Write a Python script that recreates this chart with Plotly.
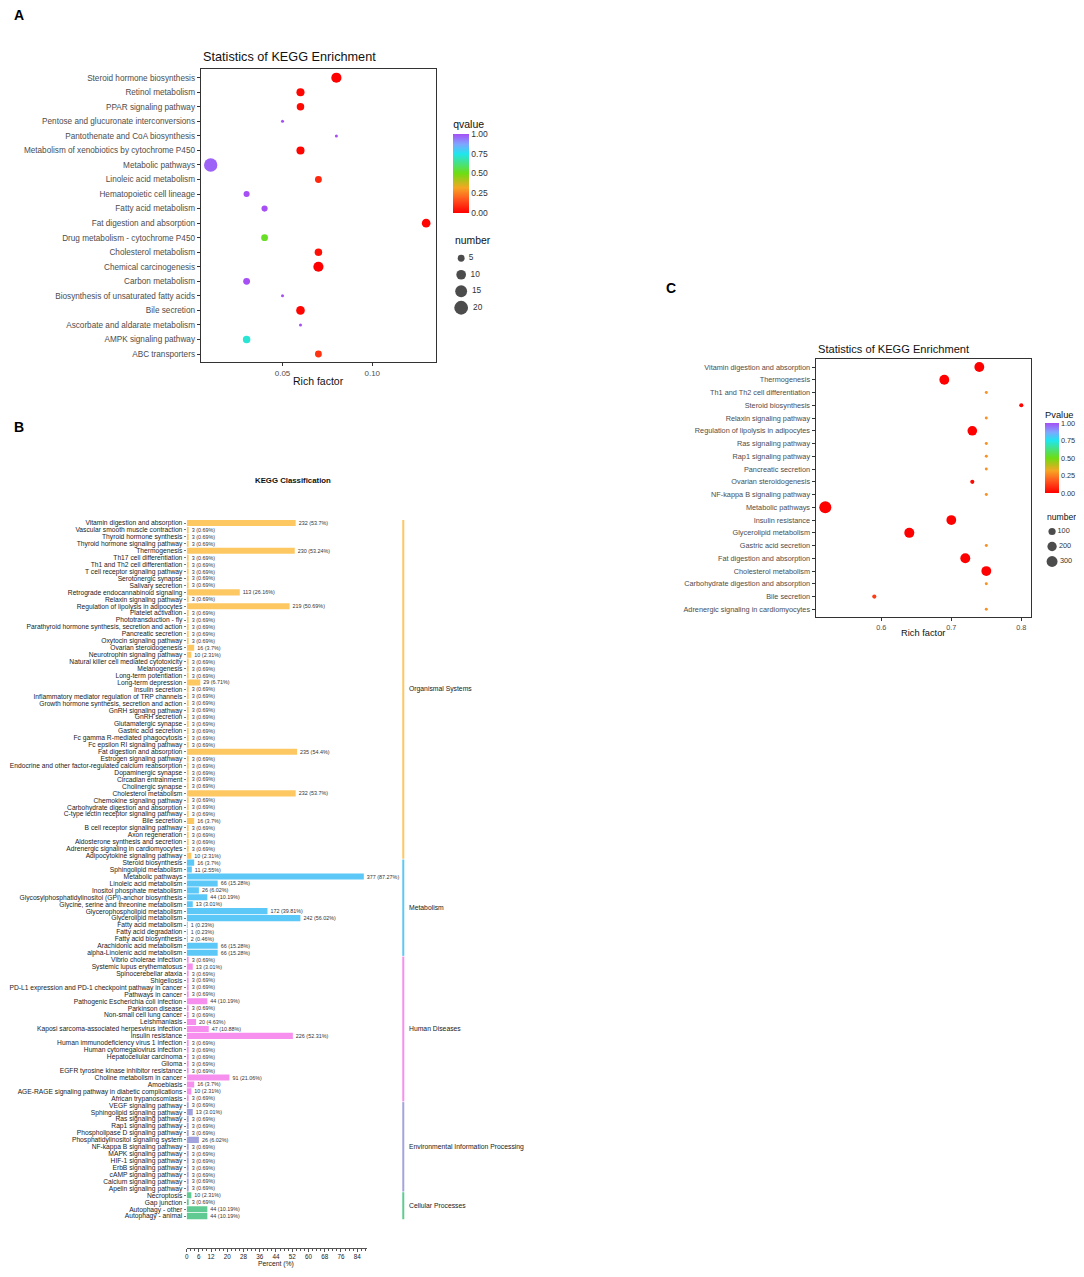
import math
import plotly.graph_objects as go

# reference canvas is 1084x1277; the page body has an 8px margin
OFF = 8
W, H = 1084 - OFF, 1277 - 2 * OFF
FONT = "Liberation Sans, Arial, sans-serif"


def px(x):
    return (x - OFF) / W


def py(y):
    return 1 - (y - OFF) / H


# ---------------- Panel A data ----------------
a_terms = ["Steroid hormone biosynthesis", "Retinol metabolism", "PPAR signaling pathway",
           "Pentose and glucuronate interconversions", "Pantothenate and CoA biosynthesis",
           "Metabolism of xenobiotics by cytochrome P450", "Metabolic pathways",
           "Linoleic acid metabolism", "Hematopoietic cell lineage", "Fatty acid metabolism",
           "Fat digestion and absorption", "Drug metabolism - cytochrome P450",
           "Cholesterol metabolism", "Chemical carcinogenesis", "Carbon metabolism",
           "Biosynthesis of unsaturated fatty acids", "Bile secretion",
           "Ascorbate and aldarate metabolism", "AMPK signaling pathway", "ABC transporters"]
a_rich = [0.08, 0.06, 0.06, 0.05, 0.08, 0.06, 0.01, 0.07, 0.03, 0.04,
          0.13, 0.04, 0.07, 0.07, 0.03, 0.05, 0.06, 0.06, 0.03, 0.07]
a_qvalue = [0.0, 0.01, 0.02, 1.0, 1.0, 0.01, 0.97, 0.08, 1.0, 1.0,
            0.01, 0.52, 0.03, 0.0, 1.0, 1.0, 0.01, 1.0, 0.72, 0.1]
a_number = [11, 7, 6, 1, 1, 7, 19, 5, 4, 4, 8, 5, 6, 11, 5, 1, 8, 1, 6, 5]
a_size_legend = [5, 10, 15, 20]
a_xticks = [0.05, 0.10]

# ---------------- Panel C data ----------------
c_terms = ["Vitamin digestion and absorption", "Thermogenesis", "Th1 and Th2 cell differentiation",
           "Steroid biosynthesis", "Relaxin signaling pathway", "Regulation of lipolysis in adipocytes",
           "Ras signaling pathway", "Rap1 signaling pathway", "Pancreatic secretion",
           "Ovarian steroidogenesis", "NF-kappa B signaling pathway", "Metabolic pathways",
           "Insulin resistance", "Glycerolipid metabolism", "Gastric acid secretion",
           "Fat digestion and absorption", "Cholesterol metabolism",
           "Carbohydrate digestion and absorption", "Bile secretion",
           "Adrenergic signaling in cardiomyocytes"]
c_rich = [0.74, 0.69, 0.75, 0.80, 0.75, 0.73, 0.75, 0.75, 0.75, 0.73,
          0.75, 0.52, 0.70, 0.64, 0.75, 0.72, 0.75, 0.75, 0.59, 0.75]
c_pvalue = [0.0, 0.0, 0.28, 0.01, 0.28, 0.0, 0.28, 0.28, 0.28, 0.02,
            0.28, 0.0, 0.0, 0.0, 0.28, 0.0, 0.0, 0.28, 0.12, 0.28]
c_number = [232, 230, 3, 16, 3, 219, 3, 3, 3, 16, 3, 377, 226, 242, 3, 235, 232, 3, 16, 3]
c_size_legend = [100, 200, 300]
c_xticks = [0.6, 0.7, 0.8]

# ---------------- Panel B data ----------------
org_names = ["Vitamin digestion and absorption", "Vascular smooth muscle contraction",
             "Thyroid hormone synthesis", "Thyroid hormone signaling pathway", "Thermogenesis",
             "Th17 cell differentiation", "Th1 and Th2 cell differentiation",
             "T cell receptor signaling pathway", "Serotonergic synapse", "Salivary secretion",
             "Retrograde endocannabinoid signaling", "Relaxin signaling pathway",
             "Regulation of lipolysis in adipocytes", "Platelet activation", "Phototransduction - fly",
             "Parathyroid hormone synthesis, secretion and action", "Pancreatic secretion",
             "Oxytocin signaling pathway", "Ovarian steroidogenesis", "Neurotrophin signaling pathway",
             "Natural killer cell mediated cytotoxicity", "Melanogenesis", "Long-term potentiation",
             "Long-term depression", "Insulin secretion",
             "Inflammatory mediator regulation of TRP channels",
             "Growth hormone synthesis, secretion and action", "GnRH signaling pathway",
             "GnRH secretion", "Glutamatergic synapse", "Gastric acid secretion",
             "Fc gamma R-mediated phagocytosis", "Fc epsilon RI signaling pathway",
             "Fat digestion and absorption", "Estrogen signaling pathway",
             "Endocrine and other factor-regulated calcium reabsorption", "Dopaminergic synapse",
             "Circadian entrainment", "Cholinergic synapse", "Cholesterol metabolism",
             "Chemokine signaling pathway", "Carbohydrate digestion and absorption",
             "C-type lectin receptor signaling pathway", "Bile secretion",
             "B cell receptor signaling pathway", "Axon regeneration",
             "Aldosterone synthesis and secretion", "Adrenergic signaling in cardiomyocytes",
             "Adipocytokine signaling pathway"]
org_counts = [232, 3, 3, 3, 230, 3, 3, 3, 3, 3, 113, 3, 219, 3, 3, 3, 3, 3, 16, 10,
              3, 3, 3, 29, 3, 3, 3, 3, 3, 3, 3, 3, 3, 235, 3, 3, 3, 3, 3, 232,
              3, 3, 3, 16, 3, 3, 3, 3, 10]
org_pcts = ["53.7", "0.69", "0.69", "0.69", "53.24", "0.69", "0.69", "0.69", "0.69", "0.69",
            "26.16", "0.69", "50.69", "0.69", "0.69", "0.69", "0.69", "0.69", "3.7", "2.31",
            "0.69", "0.69", "0.69", "6.71", "0.69", "0.69", "0.69", "0.69", "0.69", "0.69",
            "0.69", "0.69", "0.69", "54.4", "0.69", "0.69", "0.69", "0.69", "0.69", "53.7",
            "0.69", "0.69", "0.69", "3.7", "0.69", "0.69", "0.69", "0.69", "2.31"]

met_names = ["Steroid biosynthesis", "Sphingolipid metabolism", "Metabolic pathways",
             "Linoleic acid metabolism", "Inositol phosphate metabolism",
             "Glycosylphosphatidylinositol (GPI)-anchor biosynthesis",
             "Glycine, serine and threonine metabolism", "Glycerophospholipid metabolism",
             "Glycerolipid metabolism", "Fatty acid metabolism", "Fatty acid degradation",
             "Fatty acid biosynthesis", "Arachidonic acid metabolism",
             "alpha-Linolenic acid metabolism"]
met_counts = [16, 11, 377, 66, 26, 44, 13, 172, 242, 1, 1, 2, 66, 66]
met_pcts = ["3.7", "2.55", "87.27", "15.28", "6.02", "10.19", "3.01", "39.81", "56.02",
            "0.23", "0.23", "0.46", "15.28", "15.28"]

hd_names = ["Vibrio cholerae infection", "Systemic lupus erythematosus", "Spinocerebellar ataxia",
            "Shigellosis", "PD-L1 expression and PD-1 checkpoint pathway in cancer",
            "Pathways in cancer", "Pathogenic Escherichia coli infection", "Parkinson disease",
            "Non-small cell lung cancer", "Leishmaniasis",
            "Kaposi sarcoma-associated herpesvirus infection", "Insulin resistance",
            "Human immunodeficiency virus 1 infection", "Human cytomegalovirus infection",
            "Hepatocellular carcinoma", "Glioma", "EGFR tyrosine kinase inhibitor resistance",
            "Choline metabolism in cancer", "Amoebiasis",
            "AGE-RAGE signaling pathway in diabetic complications", "African trypanosomiasis"]
hd_counts = [3, 13, 3, 3, 3, 3, 44, 3, 3, 20, 47, 226, 3, 3, 3, 3, 3, 91, 16, 10, 3]
hd_pcts = ["0.69", "3.01", "0.69", "0.69", "0.69", "0.69", "10.19", "0.69", "0.69", "4.63",
           "10.88", "52.31", "0.69", "0.69", "0.69", "0.69", "0.69", "21.06", "3.7", "2.31", "0.69"]

env_names = ["VEGF signaling pathway", "Sphingolipid signaling pathway", "Ras signaling pathway",
             "Rap1 signaling pathway", "Phospholipase D signaling pathway",
             "Phosphatidylinositol signaling system", "NF-kappa B signaling pathway",
             "MAPK signaling pathway", "HIF-1 signaling pathway", "ErbB signaling pathway",
             "cAMP signaling pathway", "Calcium signaling pathway", "Apelin signaling pathway"]
env_counts = [3, 13, 3, 3, 3, 26, 3, 3, 3, 3, 3, 3, 3]
env_pcts = ["0.69", "3.01", "0.69", "0.69", "0.69", "6.02", "0.69", "0.69", "0.69", "0.69",
            "0.69", "0.69", "0.69"]

cel_names = ["Necroptosis", "Gap junction", "Autophagy - other", "Autophagy - animal"]
cel_counts = [10, 3, 44, 44]
cel_pcts = ["2.31", "0.69", "10.19", "10.19"]

b_groups = ["Organismal Systems", "Metabolism", "Human Diseases",
            "Environmental Information Processing", "Cellular Processes"]
b_colors = ["#FDC862", "#5CC8F7", "#F78FEF", "#A3A3DE", "#5FCB92"]
b_group_data = [(org_names, org_counts, org_pcts), (met_names, met_counts, met_pcts),
                (hd_names, hd_counts, hd_pcts), (env_names, env_counts, env_pcts),
                (cel_names, cel_counts, cel_pcts)]
b_xticks = [0, 6, 12, 20, 28, 36, 44, 52, 60, 68, 76, 84]

colorscale = [[0.0, "#FF0000"], [0.18, "#FF5A1F"], [0.32, "#F5A623"], [0.5, "#6EDD12"],
              [0.75, "#1FE6EE"], [0.87, "#7FA6FF"], [1.0, "#A64FF5"]]


def size_a(n):
    return 3 + (math.sqrt(n) - 1) * 3.1


def size_c(n):
    return 2.1 + 0.51 * math.sqrt(n)


fig = go.Figure()

# ---------- Panel A ----------
fig.add_trace(go.Scatter(
    x=a_rich, y=a_terms, mode="markers", xaxis="x", yaxis="y", showlegend=False,
    marker=dict(size=[size_a(n) for n in a_number], color=a_qvalue, colorscale=colorscale,
                cmin=0, cmax=1, line=dict(width=0), opacity=1,
                colorbar=dict(x=px(452), xanchor="left", y=py(165), yanchor="middle",
                              len=96, lenmode="pixels", thickness=16, xpad=0, ypad=0,
                              outlinewidth=0, ticks="",
                              tickvals=[0, 0.25, 0.5, 0.75, 1.0],
                              ticktext=["0.00", "0.25", "0.50", "0.75", "1.00"],
                              tickfont=dict(size=8.5, color="#333", family=FONT),
                              title=dict(text="qvalue", side="top",
                                         font=dict(size=10.5, color="#111", family=FONT))))))

# size legend A
fig.add_trace(go.Scatter(
    x=[0] * len(a_size_legend), y=list(range(len(a_size_legend))), mode="markers+text",
    xaxis="x4", yaxis="y4", showlegend=False, hoverinfo="skip", cliponaxis=False,
    text=[" " + str(v) for v in a_size_legend], textposition="middle right",
    textfont=dict(size=8.3, color="#333", family=FONT),
    marker=dict(size=[size_a(n) for n in a_size_legend], color="black", line=dict(width=0))))

# ---------- Panel C ----------
fig.add_trace(go.Scatter(
    x=c_rich, y=c_terms, mode="markers", xaxis="x2", yaxis="y2", showlegend=False,
    marker=dict(size=[size_c(n) for n in c_number], color=c_pvalue, colorscale=colorscale,
                cmin=0, cmax=1, line=dict(width=0), opacity=1,
                colorbar=dict(x=px(1045), xanchor="left", y=py(450.5), yanchor="middle",
                              len=85, lenmode="pixels", thickness=14, xpad=0, ypad=0,
                              outlinewidth=0, ticks="",
                              tickvals=[0, 0.25, 0.5, 0.75, 1.0],
                              ticktext=["0.00", "0.25", "0.50", "0.75", "1.00"],
                              tickfont=dict(size=7.3, color="#333", family=FONT),
                              title=dict(text="Pvalue", side="top",
                                         font=dict(size=9.3, color="#111", family=FONT))))))

fig.add_trace(go.Scatter(
    x=[0] * len(c_size_legend), y=list(range(len(c_size_legend))), mode="markers+text",
    xaxis="x6", yaxis="y6", showlegend=False, hoverinfo="skip", cliponaxis=False,
    text=[str(v) for v in c_size_legend], textposition="middle right",
    textfont=dict(size=7.3, color="#333", family=FONT),
    marker=dict(size=[size_c(n) for n in c_size_legend], color="black", line=dict(width=0))))

# ---------- Panel B ----------
b_all_names = []
for names, _, _ in b_group_data:
    b_all_names.extend(names)

for (names, counts, pcts), color in zip(b_group_data, b_colors):
    fig.add_trace(go.Bar(
        x=[float(p) for p in pcts], y=names, orientation="h", xaxis="x3", yaxis="y3",
        marker=dict(color=color, line=dict(width=0)), showlegend=False,
        text=[f"{c} ({p}%)" for c, p in zip(counts, pcts)], textposition="outside",
        constraintext="none", cliponaxis=False,
        textfont=dict(size=5.4, color="#333", family=FONT)))

shapes = []
annotations = []
start = 0
for (names, _, _), color, grp in zip(b_group_data, b_colors, b_groups):
    end = start + len(names) - 1
    shapes.append(dict(type="line", xref="paper", yref="y3", x0=px(402), x1=px(402),
                       y0=start - 0.45, y1=end + 0.45, line=dict(color=color, width=2)))
    annotations.append(dict(xref="paper", yref="y3", x=px(406), y=(start + end) / 2,
                            text=grp, showarrow=False, xanchor="left", yanchor="middle",
                            font=dict(size=6.8, color="#222", family=FONT)))
    start = end + 1

# Titles & labels
annotations += [
    dict(xref="paper", yref="paper", x=px(199), y=py(57), text="Statistics of KEGG Enrichment",
         showarrow=False, xanchor="left", yanchor="middle", font=dict(size=12.7, color="#111", family=FONT)),
    dict(xref="paper", yref="paper", x=px(317), y=py(381), text="Rich factor",
         showarrow=False, xanchor="center", yanchor="middle", font=dict(size=10.5, color="#111", family=FONT)),
    dict(xref="paper", yref="paper", x=px(452), y=py(240), text="number",
         showarrow=False, xanchor="left", yanchor="middle", font=dict(size=10.4, color="#111", family=FONT)),
    dict(xref="paper", yref="paper", x=px(815), y=py(349), text="Statistics of KEGG Enrichment",
         showarrow=False, xanchor="left", yanchor="middle", font=dict(size=11.1, color="#111", family=FONT)),
    dict(xref="paper", yref="paper", x=px(923), y=py(633), text="Rich factor",
         showarrow=False, xanchor="center", yanchor="middle", font=dict(size=9.3, color="#111", family=FONT)),
    dict(xref="paper", yref="paper", x=px(1045), y=py(517), text="number",
         showarrow=False, xanchor="left", yanchor="middle", font=dict(size=8.6, color="#111", family=FONT)),
    dict(xref="paper", yref="paper", x=px(292), y=py(480), text="<b>KEGG Classification</b>",
         showarrow=False, xanchor="center", yanchor="middle", font=dict(size=7.8, color="#111", family=FONT)),
    dict(xref="paper", yref="paper", x=px(274), y=py(1264), text="Percent (%)",
         showarrow=False, xanchor="center", yanchor="middle", font=dict(size=6.8, color="#222", family=FONT)),
    dict(xref="paper", yref="paper", x=px(10), y=py(15), text="<b>A</b>",
         showarrow=False, xanchor="left", yanchor="middle", font=dict(size=14, color="#000", family=FONT)),
    dict(xref="paper", yref="paper", x=px(10), y=py(427), text="<b>B</b>",
         showarrow=False, xanchor="left", yanchor="middle", font=dict(size=14, color="#000", family=FONT)),
    dict(xref="paper", yref="paper", x=px(663), y=py(288), text="<b>C</b>",
         showarrow=False, xanchor="left", yanchor="middle", font=dict(size=14, color="#000", family=FONT)),
]

frame = dict(showline=True, mirror=True, linecolor="#333", linewidth=1, showgrid=False,
             zeroline=False, ticks="outside", ticklen=3, tickcolor="#333")
hidden = dict(visible=False, showgrid=False, zeroline=False, fixedrange=True)

fig.update_layout(
    width=W, height=H, margin=dict(l=0, r=0, t=0, b=0),
    paper_bgcolor="white", plot_bgcolor="white",
    font=dict(family=FONT), bargap=0.12, showlegend=False,
    shapes=shapes, annotations=annotations,
    # Panel A
    xaxis=dict(domain=[px(199), px(435)], range=[0.0044, 0.1356], anchor="y",
               tickvals=a_xticks, ticktext=["0.05", "0.10"],
               tickfont=dict(size=8, color="#4D4D4D"), **frame),
    yaxis=dict(domain=[py(362), py(69)], type="category", categoryorder="array",
               categoryarray=a_terms, range=[19.55, -0.6], anchor="x",
               tickmode="array", tickvals=a_terms, ticktext=a_terms,
               tickfont=dict(size=8.2, color="#4D4D4D"), **frame),
    # Panel C
    xaxis2=dict(domain=[px(815), px(1031)], range=[0.506, 0.814], anchor="y2",
                tickvals=c_xticks, ticktext=["0.6", "0.7", "0.8"],
                tickfont=dict(size=7.3, color="#4D4D4D"), **frame),
    yaxis2=dict(domain=[py(617), py(359)], type="category", categoryorder="array",
                categoryarray=c_terms, range=[19.6, -0.63], anchor="x2",
                tickmode="array", tickvals=c_terms, ticktext=c_terms,
                tickfont=dict(size=7.3, color="#4D4D4D"), **frame),
    # Panel B
    xaxis3=dict(domain=[px(185), px(366)], range=[0, 89], anchor="y3",
                showline=True, linecolor="#555", linewidth=0.8, showgrid=False, zeroline=False,
                tickvals=b_xticks, ticks="outside", ticklen=3, tickcolor="#555", tickwidth=0.7,
                minor=dict(dtick=2, tick0=0, ticks="outside", ticklen=2, tickcolor="#555",
                           tickwidth=0.6, showgrid=False),
                tickfont=dict(size=6.3, color="#222")),
    yaxis3=dict(domain=[py(1248), py(517)], type="category", categoryorder="array",
                categoryarray=b_all_names, range=[104.6, -0.87], anchor="x3",
                tickmode="array", tickvals=b_all_names, ticktext=b_all_names,
                showline=False, showgrid=False, zeroline=False,
                ticks="outside", ticklen=2, tickcolor="#777", tickwidth=0.5,
                tickfont=dict(size=6.7, color="#222")),
    # legends
    xaxis4=dict(domain=[px(453), px(467)], range=[-1, 1], anchor="y4", **hidden),
    yaxis4=dict(domain=[py(316), py(250)], range=[3.5, -0.5], anchor="x4", **hidden),
    xaxis6=dict(domain=[px(1045), px(1059)], range=[-1, 1], anchor="y6", **hidden),
    yaxis6=dict(domain=[py(569), py(524)], range=[2.5, -0.5], anchor="x6", **hidden),
)

fig.write_html("out.html")
